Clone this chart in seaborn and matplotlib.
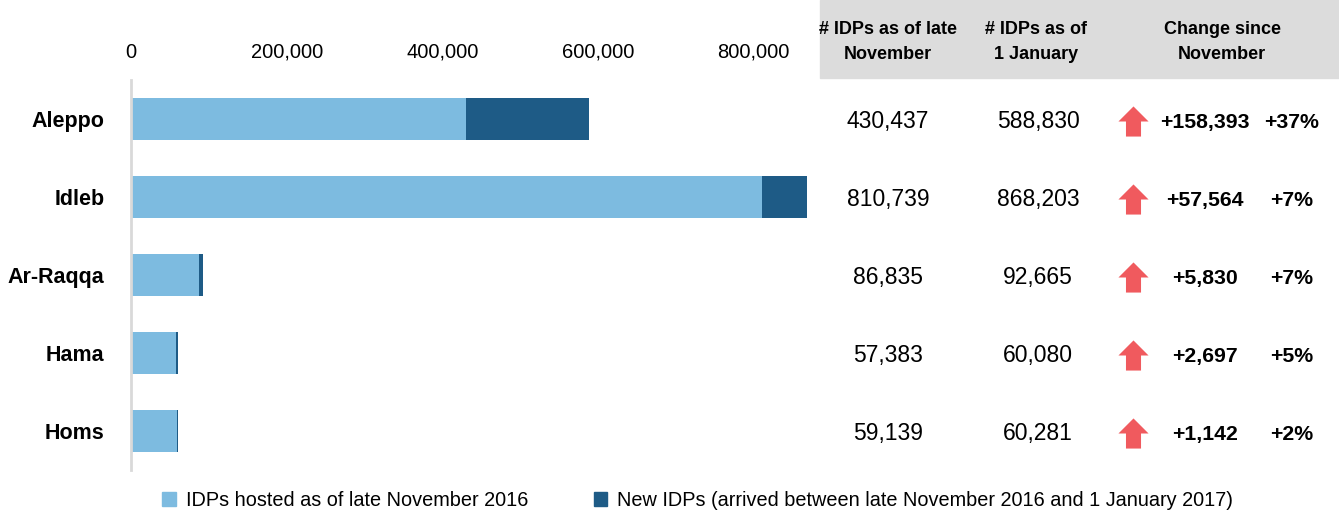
import numpy as np
import pandas as pd
import seaborn as sns
import matplotlib.pyplot as plt
import matplotlib.transforms as mtransforms
from matplotlib.path import Path
from matplotlib.patches import Rectangle, Patch

sns.set_theme(style="white")
plt.rcParams['font.family'] = ['Liberation Sans', 'DejaVu Sans']
plt.rcParams['text.color'] = 'black'
plt.rcParams['xtick.color'] = 'black'
plt.rcParams['ytick.color'] = 'black'

governorates = ["Aleppo", "Idleb", "Ar-Raqqa", "Hama", "Homs"]
idps_nov = [430437, 810739, 86835, 57383, 59139]
idps_jan = [588830, 868203, 92665, 60080, 60281]
change_abs = ["+158,393", "+57,564", "+5,830", "+2,697", "+1,142"]
change_pct = ["+37%", "+7%", "+7%", "+5%", "+2%"]
xticks = [0, 200000, 400000, 600000, 800000]

light = "#7dbbe0"
dark = "#1e5b86"
red = "#f05a5e"

df = pd.DataFrame({"gov": governorates, "nov": idps_nov, "jan": idps_jan})

W, H = 1339, 517
fig = plt.figure(figsize=(W / 100, H / 100), dpi=100)
ax = fig.add_axes([131 / W, 1 - 470 / H, 677 / W, 390 / H])

sns.barplot(data=df, x="jan", y="gov", orient="h", color=dark, width=0.55,
            saturation=1, ax=ax)
sns.barplot(data=df, x="nov", y="gov", orient="h", color=light, width=0.55,
            saturation=1, ax=ax)
for p in ax.patches:
    p.set_linewidth(0)

ax.set_xlim(0, 870000)
ax.set_ylim(4.5, -0.5)
ax.set_xlabel("")
ax.set_ylabel("")
ax.xaxis.tick_top()
ax.set_xticks(xticks)
ax.set_xticklabels([f"{v:,}" for v in xticks], fontsize=14.5)
ax.tick_params(axis="x", length=0, pad=13)
ax.tick_params(axis="y", length=0, pad=19)
for lbl in ax.get_yticklabels():
    lbl.set_fontweight("bold")
    lbl.set_fontsize(15.5)
for s in ["top", "right", "bottom"]:
    ax.spines[s].set_visible(False)
ax.spines["left"].set_color("#d9d9d9")
ax.spines["left"].set_linewidth(2)

# header band
fig.patches.append(Rectangle((820 / W, 1 - 78 / H), (W - 820) / W, 78 / H,
                             transform=fig.transFigure, color="#dcdcdc", zorder=0))
hdr_y = 1 - 42 / H
for xh, txt in [(888, "# IDPs as of late\nNovember"), (1036, "# IDPs as of\n1 January"),
                (1222, "Change since\nNovember")]:
    fig.text(xh / W, hdr_y, txt, ha="center", va="center",
             fontsize=13, fontweight="bold", linespacing=1.55)

# table columns
blend = mtransforms.blended_transform_factory(fig.transFigure, ax.transData)
arrow = Path([(-0.5, 0.0), (0.0, 0.5), (0.5, 0.0), (0.25, 0.0), (0.25, -0.5),
              (-0.25, -0.5), (-0.25, 0.0), (-0.5, 0.0)])
for i in range(len(governorates)):
    ty = i + 0.03
    ax.text(888 / W, ty, f"{idps_nov[i]:,}", transform=blend, ha="center",
            va="center", fontsize=16.5)
    ax.text(1038 / W, ty, f"{idps_jan[i]:,}", transform=blend, ha="center",
            va="center", fontsize=16.5)
    ax.text(1205 / W, ty + 0.02, change_abs[i], transform=blend, ha="center",
            va="center", fontsize=15.3, fontweight="bold")
    ax.text(1292 / W, ty + 0.02, change_pct[i], transform=blend, ha="center",
            va="center", fontsize=15.3, fontweight="bold")
ax.scatter([1133 / W] * len(governorates), np.arange(len(governorates)) + 0.03,
           marker=arrow, s=470, color=red, transform=blend, clip_on=False,
           linewidths=0)

handles = [Patch(color=light, label="IDPs hosted as of late November 2016"),
           Patch(color=dark, label="New IDPs (arrived between late November 2016 and 1 January 2017)")]
fig.legend(handles=handles, loc="center", bbox_to_anchor=(0.521, 1 - 500 / H),
           ncol=2, frameon=False, fontsize=14.3, handlelength=0.7,
           handleheight=0.7, handletextpad=0.5, columnspacing=3.3)

fig.savefig("out.png", dpi=100)
